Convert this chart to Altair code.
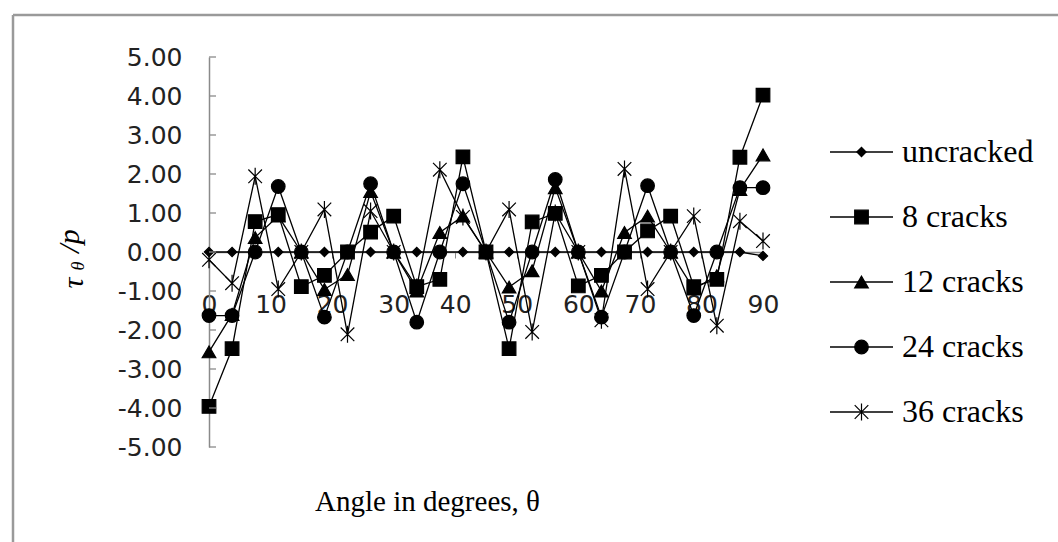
import altair as alt
import pandas as pd

# ---------------- data ----------------
angles = [0, 3.75, 7.5, 11.25, 15, 18.75, 22.5, 26.25, 30, 33.75, 37.5, 41.25, 45,
          48.75, 52.5, 56.25, 60, 63.75, 67.5, 71.25, 75, 78.75, 82.5, 86.25, 90]

series_names = ["uncracked", "8 cracks", "12 cracks", "24 cracks", "36 cracks"]

uncracked = [0.00, 0.00, 0.00, 0.00, 0.00, 0.00, 0.00, 0.00, 0.00, 0.00, 0.00, 0.00, 0.00,
             0.00, 0.00, 0.00, 0.00, 0.00, 0.00, 0.00, 0.00, 0.00, 0.00, 0.00, -0.10]
cracks8 = [-3.96, -2.48, 0.78, 0.96, -0.89, -0.60, 0.00, 0.51, 0.92, -0.89, -0.70, 2.44, 0.00,
           -2.48, 0.77, 0.99, -0.87, -0.60, 0.00, 0.54, 0.92, -0.89, -0.70, 2.43, 4.02]
cracks12 = [-2.56, -1.60, 0.37, 0.92, 0.00, -0.96, -0.58, 1.55, 0.00, -1.00, 0.50, 0.92, 0.00,
            -0.90, -0.48, 1.65, 0.00, -1.00, 0.50, 0.92, 0.00, -0.95, -0.61, 1.60, 2.49]
cracks24 = [-1.63, -1.63, 0.00, 1.68, 0.00, -1.67, 0.00, 1.75, 0.00, -1.80, 0.00, 1.75, 0.00,
            -1.80, 0.00, 1.86, 0.00, -1.67, 0.00, 1.70, 0.00, -1.63, 0.00, 1.65, 1.65]
cracks36 = [-0.20, -0.80, 1.94, -0.95, 0.00, 1.09, -2.11, 1.05, 0.00, -0.90, 2.11, 0.90, 0.00,
            1.09, -2.05, 1.00, 0.00, -1.75, 2.13, -0.95, 0.00, 0.92, -1.89, 0.79, 0.28]

x_ticks = [0, 10, 20, 30, 40, 50, 60, 70, 80, 90]
y_ticks = [-5, -4, -3, -2, -1, 0, 1, 2, 3, 4, 5]

# ---------------- tables ----------------
rows = []
for name, vals in zip(series_names, [uncracked, cracks8, cracks12, cracks24, cracks36]):
    for a, v in zip(angles, vals):
        rows.append({"angle": a, "value": v, "series": name})
df = pd.DataFrame(rows)
ticks_df = pd.DataFrame({"v": y_ticks})
legend_df = pd.DataFrame({"series": series_names})

# ---------------- layout ----------------
W, H = 554, 390
PAD_L, PAD_T = 209, 57
PAD_R, PAD_B = 1058 - PAD_L - W, 542 - PAD_T - H

ASTERISK = "M-1,-1L1,1M-1,1L1,-1M0,-1.25L0,1.25"
shape_scale = alt.Scale(domain=series_names,
                        range=["diamond", "square", "triangle-up", "circle", ASTERISK])
size_expr = "datum.series == 'uncracked' ? 85 : 185"

xscale = alt.Scale(domain=[0, 90], nice=False, zero=False)
yscale = alt.Scale(domain=[-5, 5], nice=False)

x_axis = alt.Axis(
    values=x_ticks, grid=False, offset=-H / 2,
    domainColor="#8a8a8a", domainWidth=1.5, tickColor="#8a8a8a", tickSize=6,
    labelFont="DejaVu Sans", labelFontSize=25, labelColor="#222222",
    labelPadding=34, labelFlush=False,
    title="Angle in degrees, θ", titleFont="Liberation Serif", titleFontSize=29,
    titleFontWeight="normal", titleColor="black",
    titleX=218, titleY=258, titleBaseline="alphabetic", titleAlign="center",
)
y_axis = alt.Axis(
    values=y_ticks, grid=False, ticks=False, tickSize=0,
    labelExpr="(datum.value < 0 ? '-' : '') + format(abs(datum.value), '.2f')",
    domainColor="#8a8a8a", domainWidth=1.5,
    labelFont="DejaVu Sans", labelFontSize=25, labelColor="#222222", labelPadding=27,
    title=None,
)

x_enc = alt.X("angle:Q", scale=xscale, axis=x_axis)
y_enc = alt.Y("value:Q", scale=yscale, axis=y_axis)

lines = alt.Chart(df).mark_line(strokeWidth=1.3, color="black").encode(
    x=x_enc, y=y_enc, detail="series:N",
)

points = alt.Chart(df).transform_calculate(msize=size_expr).mark_point(
    filled=True, fill="black", stroke="black", strokeWidth=1.2, opacity=1
).encode(
    x=x_enc, y=y_enc,
    shape=alt.Shape("series:N", scale=shape_scale, legend=None),
    size=alt.Size("msize:Q", scale=None, legend=None),
)

# inner tick marks on the y axis
yticks = alt.Chart(ticks_df).mark_rule(color="#8a8a8a", strokeWidth=1.3).encode(
    y=alt.Y("v:Q", scale=yscale, axis=y_axis),
    x=alt.value(0), x2=alt.value(7),
)

main = alt.layer(lines, points, yticks)

# ---------------- legend (line + marker + label per series) ----------------
leg_y = alt.Y("series:N", sort=series_names, axis=None,
              scale=alt.Scale(type="point", domain=series_names, range=[95, 355], padding=0))
leg_lines = alt.Chart(legend_df).mark_rule(color="black", strokeWidth=1.3).encode(
    y=leg_y, x=alt.value(621), x2=alt.value(684),
)
leg_points = alt.Chart(legend_df).transform_calculate(msize=size_expr).mark_point(
    filled=True, fill="black", stroke="black", strokeWidth=1.2, opacity=1
).encode(
    y=leg_y, x=alt.value(652.5),
    shape=alt.Shape("series:N", scale=shape_scale, legend=None),
    size=alt.Size("msize:Q", scale=None, legend=None),
)
leg_text = alt.Chart(legend_df).mark_text(
    font="Liberation Serif", fontSize=32, color="black", align="left", baseline="middle",
).encode(y=leg_y, x=alt.value(693), text="series:N")
legend = alt.layer(leg_lines, leg_points, leg_text)

# ---------------- y axis title: tau with subscript theta, over p ----------------
title_df = pd.DataFrame({"t": ["τ", "θ", "/p"], "k": [0, 1, 2]})
tau = alt.Chart(title_df).transform_filter("datum.k == 0").mark_text(
    font="Liberation Serif", fontSize=30, fontStyle="italic", angle=270,
    align="center", baseline="middle", color="black",
).encode(text="t:N", x=alt.value(-135), y=alt.value(226))
theta = alt.Chart(title_df).transform_filter("datum.k == 1").mark_text(
    font="Liberation Serif", fontSize=18, fontStyle="italic", angle=270,
    align="center", baseline="middle", color="black",
).encode(text="t:N", x=alt.value(-130), y=alt.value(209))
over_p = alt.Chart(title_df).transform_filter("datum.k == 2").mark_text(
    font="Liberation Serif", fontSize=30, fontStyle="italic", angle=270,
    align="center", baseline="middle", color="black",
).encode(text="t:N", x=alt.value(-139), y=alt.value(184))

# outer chart frame (left and top edges visible)
frame_left = alt.Chart(title_df).transform_filter("datum.k == 0").mark_rule(
    color="#9a9a9a", strokeWidth=2.5
).encode(x=alt.value(-196), y=alt.value(-42), y2=alt.value(H + PAD_B))
frame_top = alt.Chart(title_df).transform_filter("datum.k == 0").mark_rule(
    color="#9a9a9a", strokeWidth=2.5
).encode(x=alt.value(-196), x2=alt.value(W + PAD_R), y=alt.value(-42))

chart = alt.layer(
    main, legend, frame_left, frame_top, tau, theta, over_p
).resolve_scale(y="independent").properties(
    width=W, height=H,
    autosize=alt.AutoSizeParams(type="none"),
    padding={"left": PAD_L, "top": PAD_T, "right": PAD_R, "bottom": PAD_B},
    background="white",
).configure_view(strokeWidth=0)

chart.save("out.html", embed_options={"renderer": "svg", "actions": False})
